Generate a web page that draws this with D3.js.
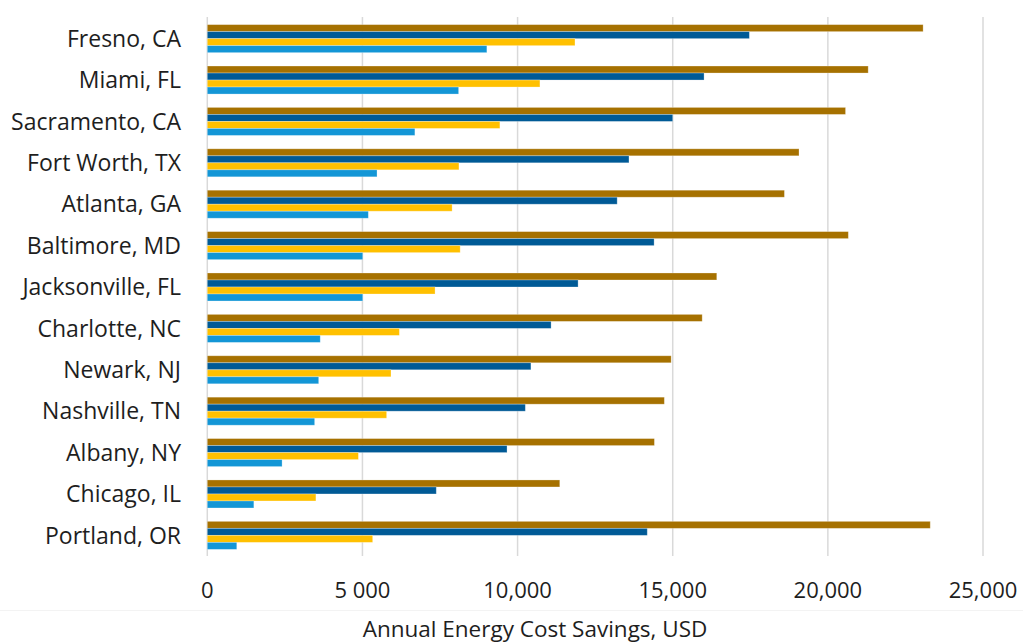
<!DOCTYPE html>
<html>
<head>
<meta charset="utf-8">
<script src="https://cdn.jsdelivr.net/npm/d3@7"></script>
<style>
  html, body { margin: 0; padding: 0; background: #ffffff; }
  svg { display: block; }
  text { font-family: "Open Sans", "Noto Sans", sans-serif; fill: #1e1e1e; }
</style>
</head>
<body>
<svg id="chart" width="1023" height="644"></svg>
<script>
// Cities, top to bottom
const cities = [
  "Fresno, CA", "Miami, FL", "Sacramento, CA", "Fort Worth, TX", "Atlanta, GA",
  "Baltimore, MD", "Jacksonville, FL", "Charlotte, NC", "Newark, NJ",
  "Nashville, TN", "Albany, NY", "Chicago, IL", "Portland, OR"
];

// Annual energy cost savings (USD), four series per city, drawn top to bottom
const seriesA = [23070, 21300, 20570, 19070, 18600, 20660, 16420, 15950, 14950, 14730, 14410, 11360, 23300];
const seriesB = [17470, 16010, 15000, 13590, 13210, 14400, 11950, 11080, 10430, 10250, 9660, 7380, 14180];
const seriesC = [11850, 10720, 9430, 8110, 7890, 8150, 7340, 6190, 5920, 5780, 4870, 3500, 5330];
const seriesD = [9010, 8100, 6690, 5470, 5190, 5010, 5010, 3640, 3590, 3460, 2410, 1500, 950];

const seriesKeys = ["a", "b", "c", "d"];
const seriesColors = ["#A67100", "#005A96", "#FFC000", "#1396D6"];

const tickValues = [0, 5000, 10000, 15000, 20000, 25000];
const tickLabels = ["0", "5 000", "10,000", "15,000", "20,000", "25,000"];
const axisTitle = "Annual Energy Cost Savings, USD";

const rows = cities.map((c, i) => ({
  city: c,
  a: seriesA[i], b: seriesB[i], c: seriesC[i], d: seriesD[i]
}));

const svg = d3.select("#chart");

const x = d3.scaleLinear().domain([0, 25000]).range([207.3, 983]);
const y = d3.scaleBand().domain(cities).range([18, 556])
  .paddingInner(0.323).paddingOuter(0.16);
const ySub = d3.scaleBand().domain(seriesKeys).range([0, y.bandwidth()]);

// Vertical gridlines (including the zero line)
svg.append("g")
  .selectAll("line")
  .data(tickValues)
  .join("line")
  .attr("x1", d => x(d)).attr("x2", d => x(d))
  .attr("y1", 17).attr("y2", 556)
  .attr("stroke", "#d9d9d9")
  .attr("stroke-width", 1.5);

// Grouped bars
const groups = svg.append("g")
  .selectAll("g")
  .data(rows)
  .join("g")
  .attr("transform", d => `translate(0,${y(d.city)})`);

groups.selectAll("rect")
  .data(d => seriesKeys.map((k, j) => ({ key: k, value: d[k], color: seriesColors[j] })))
  .join("rect")
  .attr("x", x(0))
  .attr("y", d => ySub(d.key))
  .attr("width", d => x(d.value) - x(0))
  .attr("height", ySub.bandwidth())
  .attr("fill", d => d.color)
  .attr("stroke", "rgba(255,255,255,0.35)")
  .attr("stroke-width", 0.8);

// Category labels
svg.append("g")
  .selectAll("text")
  .data(cities)
  .join("text")
  .attr("x", 181)
  .attr("y", d => y(d) + y.bandwidth() / 2)
  .attr("dy", "0.36em")
  .attr("text-anchor", "end")
  .style("font-size", "23px")
  .text(d => d);

// X tick labels
svg.append("g")
  .selectAll("text")
  .data(tickValues)
  .join("text")
  .attr("x", d => x(d))
  .attr("y", 598)
  .attr("text-anchor", "middle")
  .style("font-size", "22px")
  .text((d, i) => tickLabels[i]);

// Faint separator under the tick labels
svg.append("line")
  .attr("x1", 0).attr("x2", 1023)
  .attr("y1", 610.5).attr("y2", 610.5)
  .attr("stroke", "#f3f3f3")
  .attr("stroke-width", 1);

// Axis title
svg.append("text")
  .attr("x", 535)
  .attr("y", 637)
  .attr("text-anchor", "middle")
  .style("font-size", "22.5px")
  .text(axisTitle);
</script>
</body>
</html>
